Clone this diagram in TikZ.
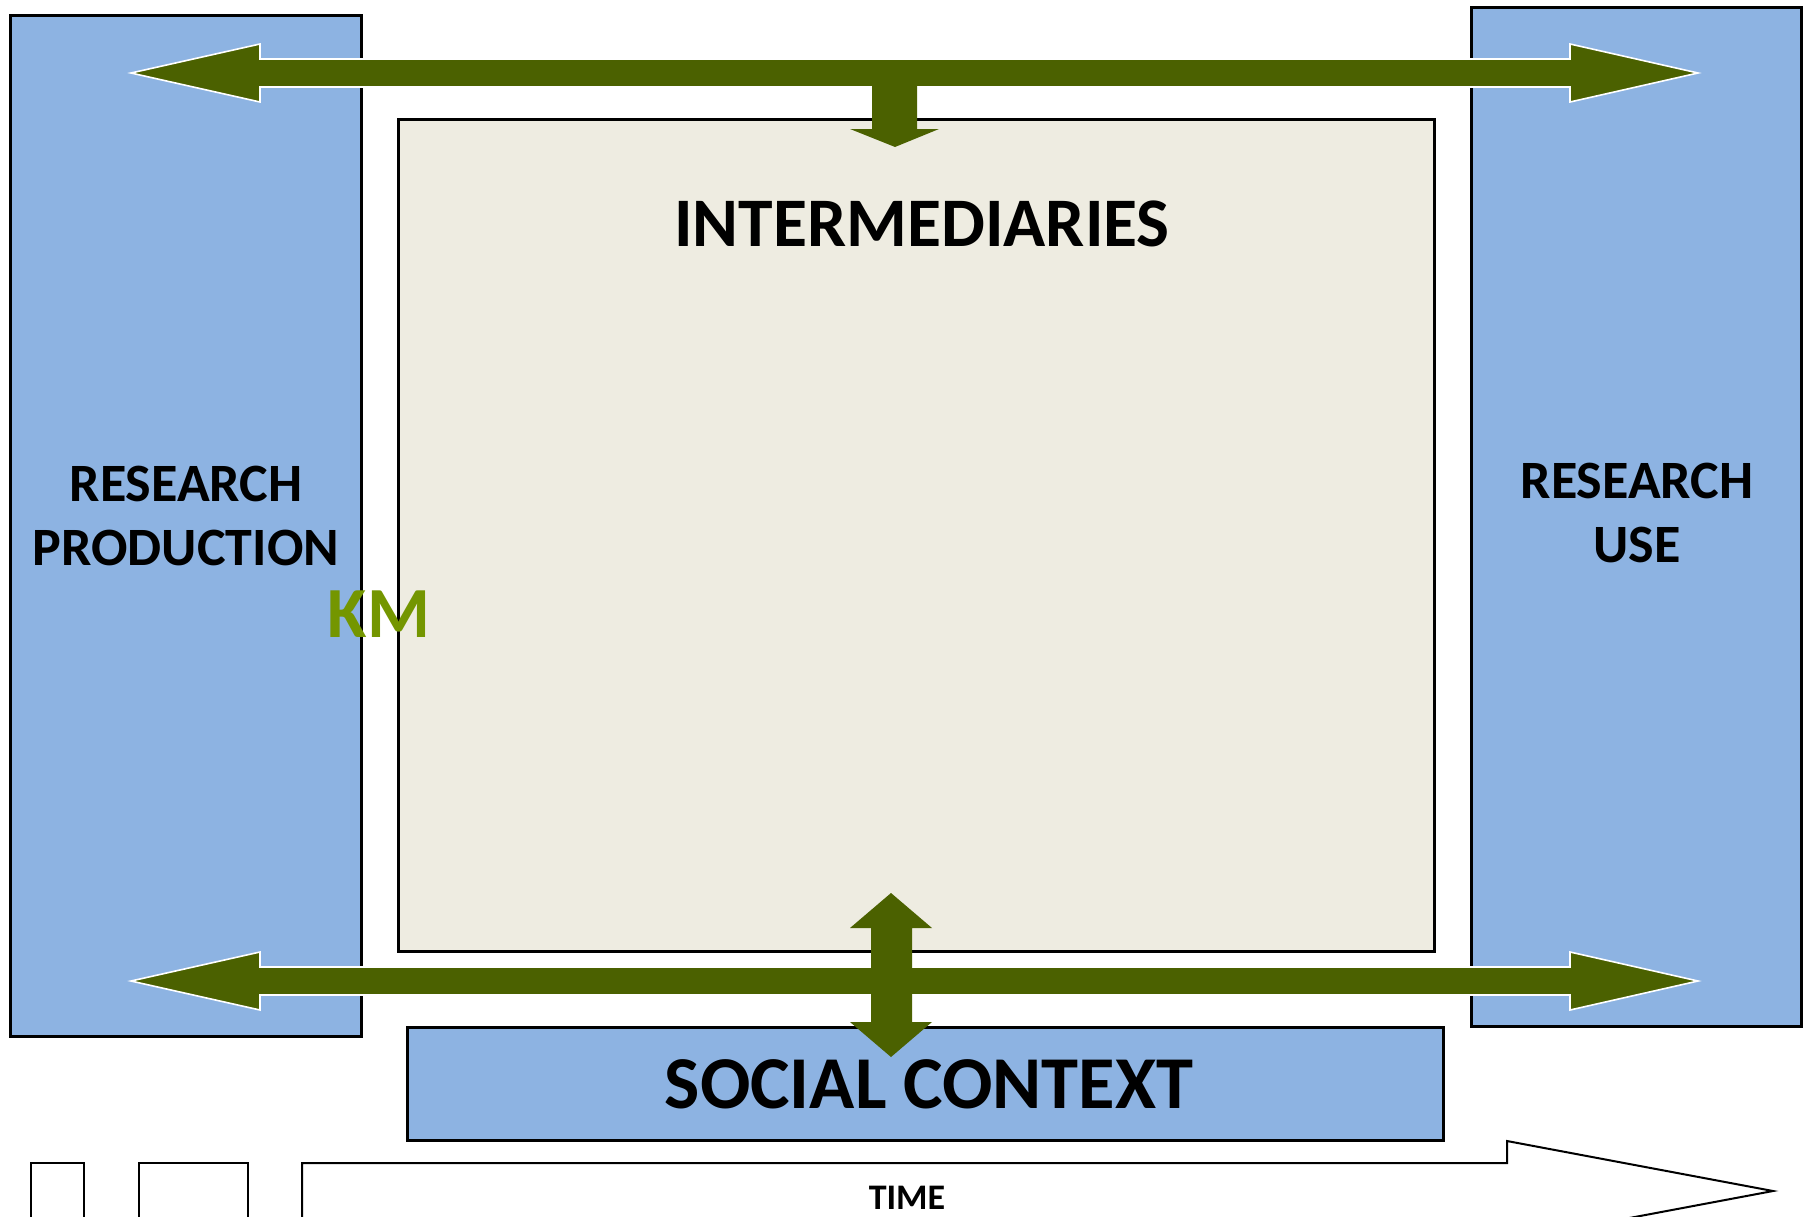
\documentclass[tikz,border=0pt]{standalone}
\usepackage{fontspec}
\setmainfont{Carlito}
\usetikzlibrary{fit}
\definecolor{km-blue}{HTML}{8DB3E2}
\definecolor{km-sand}{HTML}{EEECE1}
\definecolor{km-olive}{HTML}{4B6100}
\definecolor{km-green}{HTML}{749600}

\begin{document}
\begin{tikzpicture}[x=0.5pt, y=-0.5pt, inner sep=0pt,
  panel/.style={draw=black, line width=1.5pt, fill=km-blue},
  caption/.style={font=\bfseries\fontsize{27}{32}\selectfont, align=center, anchor=base},
  fat arrow/.style={fill=km-olive, draw=white, line width=0.8pt}]
\useasboundingbox (0,0) rectangle (1814,1216);

% the four blocks
\node[panel, fit={(10,15) (361,1036)}] (production) {};
\node[panel, fit={(1471,7) (1801,1026)}] (use) {};
\node[panel, fill=km-sand, fit={(398,119) (1434,951)}] (intermediaries) {};
\node[panel, fit={(407,1027) (1443,1140)}] (social) {};

% two-way arrows between production and use
\foreach \y in {73, 981} {
  \filldraw[fat arrow]
    (131,\y) -- (260,\y-29) -- (260,\y-14) -- (1570,\y-14) -- (1570,\y-29)
    -- (1698,\y) -- (1570,\y+29) -- (1570,\y+14) -- (260,\y+14) -- (260,\y+29) -- cycle;
}
\fill[km-olive] (872,73) -- (917,73) -- (917,129) -- (939,129) -- (895,147)
  -- (850,129) -- (872,129) -- cycle;
\fill[km-olive] (891,893) -- (932,928) -- (912,928) -- (912,1022) -- (932,1022)
  -- (891,1057) -- (850,1022) -- (871,1022) -- (871,928) -- (850,928) -- cycle;

% time arrow
\foreach \xa/\xb in {31/84, 139/248}
  \draw[line width=1pt] (\xa,1163) rectangle (\xb,1219);
\draw[line width=1pt] (302,1163) -- (1507,1163) -- (1507,1141) -- (1773,1191)
  -- (1507,1241) -- (1507,1219) -- (302,1219) -- cycle;

% labels
\node[caption, font=\bfseries\fontsize{34.8}{40}\selectfont]
  (intermediaries-text) at (922,246) {INTERMEDIARIES};
\node[caption] (production-text) at (186,565) {RESEARCH\\PRODUCTION};
\node[caption] (use-text) at (1637,562) {RESEARCH\\USE};
\node[caption, font=\bfseries\fontsize{36}{44}\selectfont, text=km-green]
  (km) at (379,637) {KM};
\node[caption, font=\bfseries\fontsize{37.3}{44}\selectfont]
  (social-text) at (929,1108) {SOCIAL CONTEXT};
\node[caption, font=\bfseries\fontsize{18}{22}\selectfont]
  (time) at (907,1209) {TIME};
\end{tikzpicture}
\end{document}
